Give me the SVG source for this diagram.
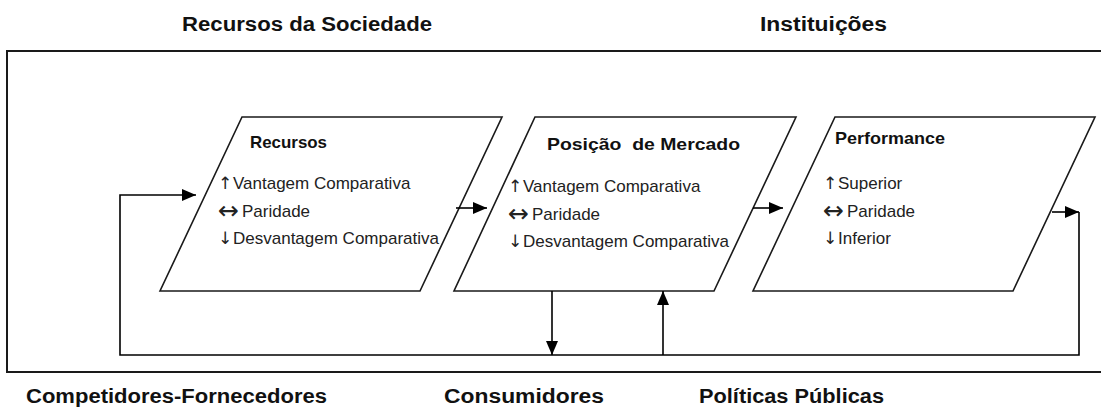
<svg xmlns="http://www.w3.org/2000/svg" width="1101" height="417" viewBox="0 0 1101 417">
<defs>
<style>
.frame{fill:none;stroke:#1a1a1a;stroke-width:2}
.shape{fill:#fff;stroke:#1a1a1a;stroke-width:1.6}
.conn{fill:none;stroke:#000;stroke-width:1.6}
.lbl{font-family:"Liberation Sans",Arial,sans-serif;font-weight:bold;font-size:20px;fill:#111}
.ttl{font-family:"Liberation Sans",Arial,sans-serif;font-weight:bold;font-size:17px;fill:#111}
.item{font-family:"Liberation Sans","DejaVu Sans",Arial,sans-serif;font-size:17px;fill:#222}
.ar{font-family:"DejaVu Sans",sans-serif;font-size:17px}
.ar2{font-family:"DejaVu Sans",sans-serif;font-size:25px}
</style>
<marker id="ah" markerUnits="userSpaceOnUse" markerWidth="14" markerHeight="12" refX="14" refY="6" orient="auto">
<path d="M0,0 L14,6 L0,12 z" fill="#000"/>
</marker>
</defs>
<rect width="1101" height="417" fill="#fff"/>
<g id="frame">
<rect class="frame" x="7" y="51" width="1100" height="321"/>
</g>
<g id="labels">
<text class="lbl" x="182" y="31" textLength="250" lengthAdjust="spacingAndGlyphs">Recursos da Sociedade</text>
<text class="lbl" x="760" y="31" textLength="127" lengthAdjust="spacingAndGlyphs">Instituições</text>
<text class="lbl" x="26" y="403" textLength="301" lengthAdjust="spacingAndGlyphs">Competidores-Fornecedores</text>
<text class="lbl" x="444" y="403" textLength="160" lengthAdjust="spacingAndGlyphs">Consumidores</text>
<text class="lbl" x="699" y="403" textLength="185" lengthAdjust="spacingAndGlyphs">Políticas Públicas</text>
</g>
<g id="node-recursos">
<polygon class="shape" points="242,117 502,117 420,291 160,291"/>
<text class="ttl" x="250" y="148" textLength="77" lengthAdjust="spacingAndGlyphs">Recursos</text>
<text class="item" x="218" y="189"><tspan class="ar">↑</tspan><tspan x="233">Vantagem Comparativa</tspan></text>
<text class="item" x="218" y="217"><tspan class="ar2" dy="2">↔</tspan><tspan x="242" dy="-2">Paridade</tspan></text>
<text class="item" x="218" y="244"><tspan class="ar">↓</tspan><tspan x="233">Desvantagem Comparativa</tspan></text>
</g>
<g id="node-posicao">
<polygon class="shape" points="535,117 796,117 714,291 454,291"/>
<text class="ttl" x="547" y="150" textLength="193" lengthAdjust="spacingAndGlyphs">Posição&#160; de Mercado</text>
<text class="item" x="508" y="192"><tspan class="ar">↑</tspan><tspan x="523">Vantagem Comparativa</tspan></text>
<text class="item" x="508" y="220"><tspan class="ar2" dy="2">↔</tspan><tspan x="532" dy="-2">Paridade</tspan></text>
<text class="item" x="508" y="247"><tspan class="ar">↓</tspan><tspan x="523">Desvantagem Comparativa</tspan></text>
</g>
<g id="node-performance">
<polygon class="shape" points="835,117 1095,117 1013,291 753,291"/>
<text class="ttl" x="835" y="144" textLength="110" lengthAdjust="spacingAndGlyphs">Performance</text>
<text class="item" x="823" y="189"><tspan class="ar">↑</tspan><tspan x="838">Superior</tspan></text>
<text class="item" x="823" y="217"><tspan class="ar2" dy="2">↔</tspan><tspan x="847" dy="-2">Paridade</tspan></text>
<text class="item" x="823" y="244"><tspan class="ar">↓</tspan><tspan x="838">Inferior</tspan></text>
</g>
<g id="connectors">
<path class="conn" d="M456,208 H487" marker-end="url(#ah)"/>
<path class="conn" d="M753,208 H783" marker-end="url(#ah)"/>
<path class="conn" d="M1052,212 H1079" marker-end="url(#ah)"/>
<path class="conn" d="M1079,212 V355 H120 V195 H196" marker-end="url(#ah)"/>
<path class="conn" d="M552,291 V355" marker-end="url(#ah)"/>
<path class="conn" d="M663,355 V291" marker-end="url(#ah)"/>
</g>
</svg>
